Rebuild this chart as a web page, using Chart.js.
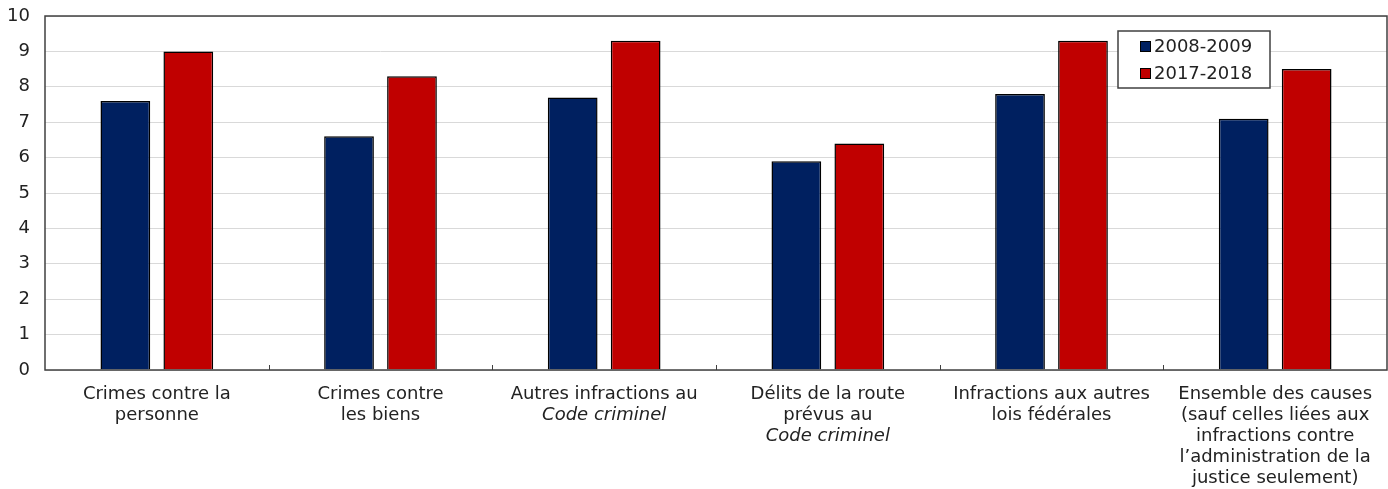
<!DOCTYPE html>
<html>
<head>
<meta charset="utf-8">
<script src="https://cdn.jsdelivr.net/npm/chart.js@4.4.1/dist/chart.umd.min.js"></script>
<style>
  html, body { margin: 0; padding: 0; background: #fff; }
  #wrap { width: 1388px; height: 489px; }
</style>
</head>
<body>
<div id="wrap"><canvas id="chart" width="1388" height="489"></canvas></div>
<script>
  "use strict";

  var categories = [
    ["Crimes contre la", "personne"],
    ["Crimes contre", "les biens"],
    ["Autres infractions au", "Code criminel"],
    ["Délits de la route", "prévus au", "Code criminel"],
    ["Infractions aux autres", "lois fédérales"],
    ["Ensemble des causes", "(sauf celles liées aux", "infractions contre", "l’administration de la", "justice seulement)"]
  ];
  var italicLines = ["Code criminel"];
  var seriesLabels = ["2008-2009", "2017-2018"];
  var values2008 = [7.6, 6.6, 7.7, 5.9, 7.8, 7.1];
  var values2017 = [9.0, 8.3, 9.3, 6.4, 9.3, 8.5];
  var yTicks = [0, 1, 2, 3, 4, 5, 6, 7, 8, 9, 10];

  var FONT = "'DejaVu Sans', Verdana, sans-serif";
  var FONT_SIZE = 18;
  var TEXT = "#222222";

  var overlay = {
    id: "overlay",
    afterDraw: function (chart) {
      var ctx = chart.ctx;
      var area = chart.chartArea;
      var xs = chart.scales.x;

      ctx.save();
      // frame
      ctx.strokeStyle = "#404040";
      ctx.lineWidth = 1.5;
      ctx.strokeRect(area.left, area.top, area.right - area.left, area.bottom - area.top);

      // small ticks between categories
      ctx.lineWidth = 1;
      for (var i = 1; i < categories.length; i++) {
        var bx = Math.round((xs.getPixelForValue(i - 1) + xs.getPixelForValue(i)) / 2) + 0.5;
        ctx.beginPath();
        ctx.moveTo(bx, area.bottom);
        ctx.lineTo(bx, area.bottom - 5);
        ctx.stroke();
      }

      // category labels
      ctx.fillStyle = TEXT;
      ctx.textAlign = "center";
      ctx.textBaseline = "middle";
      categories.forEach(function (lines, idx) {
        var cx = xs.getPixelForValue(idx);
        lines.forEach(function (line, j) {
          var it = italicLines.indexOf(line) !== -1;
          ctx.font = (it ? "italic " : "") + FONT_SIZE + "px " + FONT;
          ctx.fillText(line, cx, area.bottom + 24 + j * 21);
        });
      });

      // legend
      var lx = 1118, ly = 31, lw = 152, lh = 57;
      ctx.fillStyle = "#ffffff";
      ctx.fillRect(lx, ly, lw, lh);
      ctx.strokeStyle = "#404040";
      ctx.lineWidth = 1.5;
      ctx.strokeRect(lx, ly, lw, lh);
      ctx.font = FONT_SIZE + "px " + FONT;
      ctx.textAlign = "left";
      chart.data.datasets.forEach(function (ds, k) {
        var cy = ly + 15 + k * 27;
        ctx.fillStyle = ds.backgroundColor;
        ctx.fillRect(lx + 22, cy - 5, 11, 11);
        ctx.strokeStyle = "#000";
        ctx.lineWidth = 1;
        ctx.strokeRect(lx + 22.5, cy - 4.5, 10, 10);
        ctx.fillStyle = TEXT;
        ctx.fillText(ds.label, lx + 36, cy + 1);
      });
      ctx.restore();
    }
  };

  new Chart(document.getElementById("chart"), {
    type: "bar",
    data: {
      labels: categories,
      datasets: [
        {
          label: seriesLabels[0],
          data: values2008,
          backgroundColor: "#002060",
          borderColor: "#000000",
          borderWidth: 1.5
        },
        {
          label: seriesLabels[1],
          data: values2017,
          backgroundColor: "#c00000",
          borderColor: "#000000",
          borderWidth: 1.5
        }
      ]
    },
    options: {
      responsive: false,
      animation: false,
      devicePixelRatio: 1,
      categoryPercentage: 0.563,
      barPercentage: 0.79,
      layout: { padding: { left: 0, top: 16, right: 1, bottom: 119 } },
      scales: {
        x: {
          offset: true,
          ticks: { display: false },
          grid: { display: false, drawTicks: false },
          border: { display: false }
        },
        y: {
          min: 0,
          max: 10,
          afterBuildTicks: function (scale) {
            scale.ticks = yTicks.map(function (v) { return { value: v }; });
          },
          afterFit: function (scale) {
            scale.width = 45;
            scale.paddingTop = 0;
            scale.paddingBottom = 0;
          },
          ticks: {
            color: TEXT,
            padding: 15,
            font: { family: FONT, size: FONT_SIZE }
          },
          grid: { color: "#d9d9d9", lineWidth: 1, drawTicks: false },
          border: { display: false }
        }
      },
      plugins: {
        legend: { display: false },
        tooltip: { enabled: false }
      }
    },
    plugins: [overlay]
  });
</script>
</body>
</html>
